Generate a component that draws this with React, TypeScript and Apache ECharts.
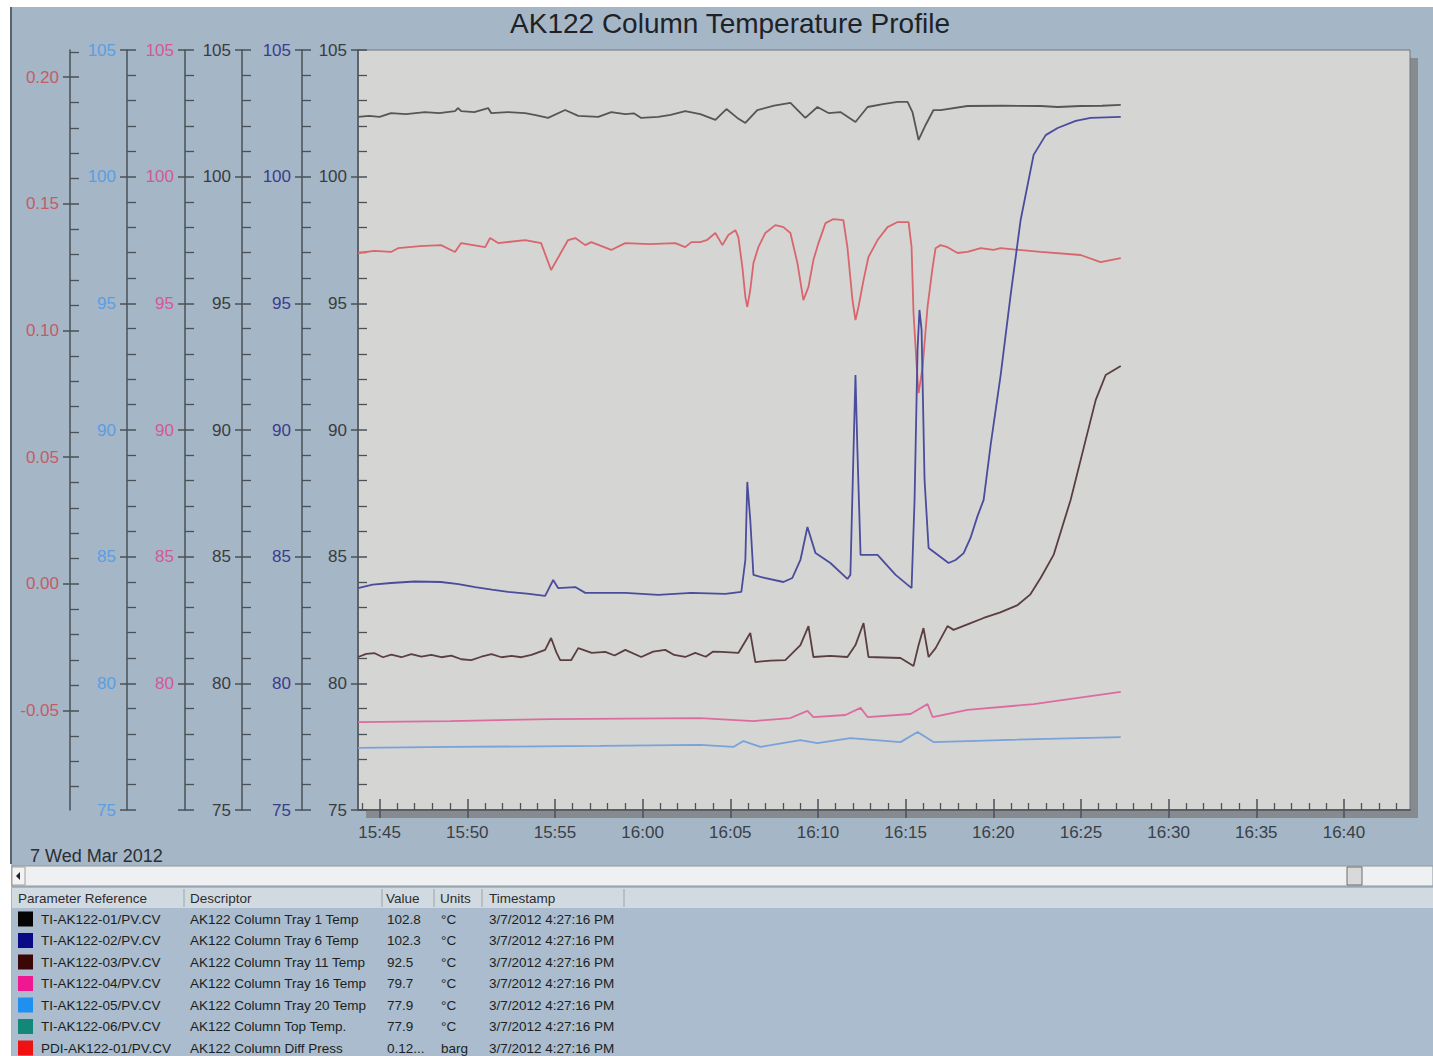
import React, { useEffect, useRef } from "react";
import * as echarts from "echarts";

const FONT = "'Liberation Sans', Arial, sans-serif";

const chartTitle = "AK122 Column Temperature Profile";
const dateLabel = "7 Wed Mar 2012";

// time values are minutes after 15:00
const windowStart = 43.767; // 15:43:46
const windowEnd = 103.767; // 16:43:46
const majorTimeTicks = [45, 50, 55, 60, 65, 70, 75, 80, 85, 90, 95, 100];
const minorTimeTicks = [
  44, 46, 47, 48, 49, 51, 52, 53, 54, 56, 57, 58, 59, 61, 62, 63, 64, 66, 67, 68, 69, 71, 72, 73, 74,
  76, 77, 78, 79, 81, 82, 83, 84, 86, 87, 88, 89, 91, 92, 93, 94, 96, 97, 98, 99, 101, 102, 103,
];

const tempMin = 75;
const tempMax = 105;
const tempInterval = 5;
const pressureMin = -0.0892;
const pressureMax = 0.2107;
const pressureLabelTicks = [-0.05, 0, 0.05, 0.1, 0.15, 0.2];
const pressureMinorTicks = [
  -0.08, -0.07, -0.06, -0.04, -0.03, -0.02, -0.01, 0.01, 0.02, 0.03, 0.04, 0.06, 0.07, 0.08, 0.09,
  0.11, 0.12, 0.13, 0.14, 0.16, 0.17, 0.18, 0.19, 0.21,
];

// TI-AK122-01 Tray 1
const tray1Temp: [number, number][] = [
  [43.77, 102.36], [44.4, 102.4], [45.0, 102.36], [45.65, 102.51], [46.5, 102.47], [47.59, 102.55],
  [48.4, 102.51], [49.3, 102.59], [49.48, 102.71], [49.65, 102.59], [50.4, 102.55],
  [51.19, 102.71], [51.36, 102.51], [52.3, 102.55], [53.3, 102.51], [53.9, 102.43], [54.61, 102.32],
  [55.58, 102.63], [56.33, 102.4], [57.47, 102.36], [58.21, 102.55], [59.01, 102.47], [59.5, 102.5],
  [59.92, 102.32], [60.89, 102.36], [61.6, 102.44], [62.43, 102.59], [63.29, 102.47], [64.15, 102.24],
  [64.78, 102.67], [65.4, 102.32], [65.86, 102.12], [66.54, 102.63], [67.5, 102.8],
  [68.43, 102.91], [69.28, 102.32], [69.97, 102.75], [70.6, 102.51], [71.28, 102.55], [72.14, 102.16],
  [72.83, 102.75], [73.7, 102.86], [74.54, 102.95], [75.11, 102.95], [75.39, 102.55], [75.74, 101.45],
  [76.14, 102.04], [76.59, 102.63], [76.99, 102.63], [78.53, 102.79], [80.5, 102.8], [82.7, 102.79],
  [83.67, 102.75], [84.98, 102.79], [86.2, 102.8], [87.27, 102.83],
];

// TI-AK122-02 Tray 6
const tray6Temp: [number, number][] = [
  [43.77, 83.76], [44.6, 83.9], [45.65, 83.96], [47.0, 84.02], [48.5, 84.0], [49.5, 83.92],
  [50.45, 83.8], [51.4, 83.7], [52.33, 83.61], [53.4, 83.54], [54.44, 83.45],
  [54.9, 84.08], [55.18, 83.76], [56.16, 83.8], [56.73, 83.57], [59.01, 83.57], [60.89, 83.49],
  [62.78, 83.57], [64.72, 83.53], [65.63, 83.61], [65.86, 84.87], [65.97, 87.95], [66.14, 86.45],
  [66.32, 84.28], [66.95, 84.16], [68.03, 84.0], [68.54, 84.16], [69.0, 84.87], [69.4, 86.17],
  [69.86, 85.14], [70.71, 84.75], [71.68, 84.12], [71.85, 84.28], [72.03, 89.21], [72.14, 92.17],
  [72.25, 89.21], [72.43, 85.07], [73.4, 85.07], [74.43, 84.28], [75.34, 83.76], [75.51, 87.24],
  [75.68, 93.16], [75.79, 94.74], [75.91, 93.95], [76.08, 88.03], [76.31, 85.34], [77.45, 84.75],
  [77.85, 84.87], [78.31, 85.14], [78.7, 85.74], [79.1, 86.6], [79.45, 87.24], [79.85, 89.41],
  [80.42, 92.17], [80.99, 95.33], [81.56, 98.29], [82.3, 100.86], [82.99, 101.64], [83.67, 101.92],
  [84.7, 102.2], [85.55, 102.32], [87.27, 102.36],
];

// TI-AK122-03 Tray 11
const tray11Temp: [number, number][] = [
  [43.77, 81.04], [44.24, 81.16], [44.72, 81.19], [45.19, 81.03], [45.67, 81.13], [46.24, 81.03],
  [46.81, 81.15], [47.38, 81.05], [47.95, 81.12], [48.52, 81.03], [49.09, 81.09], [49.66, 80.95],
  [50.23, 80.92], [50.8, 81.05], [51.38, 81.15], [51.95, 81.03], [52.52, 81.08], [53.09, 81.03],
  [53.66, 81.12], [54.44, 81.32], [54.78, 81.79], [55.07, 81.24],
  [55.3, 80.92], [55.93, 80.92], [56.33, 81.39], [57.1, 81.2], [57.87, 81.24], [58.4, 81.1],
  [59.01, 81.32], [59.92, 81.04], [60.6, 81.25], [61.29, 81.32], [61.8, 81.12], [62.43, 81.04],
  [63.0, 81.2], [63.6, 81.05], [64.0, 81.25], [64.49, 81.24], [65.46, 81.2], [66.14, 81.99],
  [66.43, 80.84], [67.3, 80.9], [68.14, 80.92], [69.0, 81.51], [69.46, 82.26], [69.74, 81.04],
  [70.7, 81.08], [71.68, 81.04], [72.14, 81.51],
  [72.6, 82.38], [72.88, 81.04], [73.8, 81.02], [74.71, 81.0], [75.45, 80.68], [75.74, 81.51],
  [76.02, 82.18], [76.31, 81.04], [76.71, 81.39], [77.39, 82.26], [77.73, 82.11], [78.6, 82.35],
  [79.45, 82.58], [80.4, 82.8], [81.39, 83.09], [82.1, 83.5],
  [82.7, 84.16], [83.44, 85.07], [84.41, 87.24], [85.27, 89.61], [85.84, 91.18], [86.41, 92.17],
  [87.27, 92.53],
];

// TI-AK122-04 Tray 16
const tray16Temp: [number, number][] = [
  [43.77, 78.47], [49.02, 78.51], [54.73, 78.59], [63.29, 78.63], [66.32, 78.51], [68.43, 78.63],
  [69.4, 78.91], [69.74, 78.67], [71.57, 78.75], [72.43, 79.03], [72.83, 78.67], [75.28, 78.79],
  [76.25, 79.18], [76.54, 78.67], [78.53, 78.95], [82.3, 79.18], [87.27, 79.66],
];

// TI-AK122-05 Tray 20
const tray20Temp: [number, number][] = [
  [43.77, 77.45], [49.02, 77.49], [57.58, 77.53], [63.29, 77.57], [65.17, 77.49], [65.75, 77.72],
  [66.72, 77.49], [69.0, 77.76], [69.97, 77.64], [71.85, 77.84], [74.71, 77.68], [75.68, 78.08],
  [76.59, 77.68], [80.42, 77.76], [87.27, 77.88],
];

// PDI-AK122-01 Diff Press (barg)
const diffPress: [number, number][] = [
  [43.77, 0.1306], [44.7, 0.1314], [45.65, 0.131], [46.05, 0.1325], [47.3, 0.1333], [48.5, 0.1337],
  [49.3, 0.131], [49.65, 0.1345],
  [51.02, 0.1329], [51.3, 0.1365], [51.76, 0.1345], [53.3, 0.1357], [54.21, 0.1345], [54.78, 0.1239],
  [55.75, 0.1357], [56.16, 0.1365], [56.73, 0.1337], [57.07, 0.1349], [58.21, 0.1318], [59.01, 0.1345],
  [60.4, 0.1341], [61.86, 0.1345], [62.43, 0.1329], [62.78, 0.1349], [63.29, 0.1349], [63.69, 0.1358],
  [64.15, 0.1385], [64.55, 0.1337], [64.89, 0.1377], [65.29, 0.1396], [65.46, 0.1369], [65.69, 0.125],
  [65.86, 0.1132], [65.97, 0.1093], [66.14, 0.116], [66.32, 0.1266], [66.6, 0.1329], [67.0, 0.1385],
  [67.57, 0.1416], [68.03, 0.1408], [68.43, 0.1385], [68.83, 0.1266], [69.17, 0.112], [69.46, 0.1172],
  [69.74, 0.1278], [70.03, 0.1345], [70.43, 0.1424], [70.88, 0.144], [71.45, 0.1436], [71.68, 0.1329],
  [71.97, 0.112], [72.14, 0.1041], [72.31, 0.1093], [72.6, 0.1199], [72.88, 0.129], [73.4, 0.1357],
  [73.97, 0.1408], [74.54, 0.1428], [75.17, 0.1428], [75.34, 0.1329], [75.45, 0.1069], [75.68, 0.0805],
  [75.74, 0.0753], [75.97, 0.0856], [76.25, 0.1093], [76.54, 0.125], [76.71, 0.1325], [76.99, 0.1337],
  [77.39, 0.1329], [77.96, 0.1306], [78.53, 0.131], [79.28, 0.1325], [80.02, 0.1318], [80.42, 0.1325],
  [82.7, 0.131], [84.98, 0.1298], [86.12, 0.127], [87.27, 0.1286],
];

// table
const paramRefs = [
  "TI-AK122-01/PV.CV", "TI-AK122-02/PV.CV", "TI-AK122-03/PV.CV", "TI-AK122-04/PV.CV",
  "TI-AK122-05/PV.CV", "TI-AK122-06/PV.CV", "PDI-AK122-01/PV.CV",
];
const descriptors = [
  "AK122 Column Tray 1 Temp", "AK122 Column Tray 6 Temp", "AK122 Column Tray 11 Temp",
  "AK122 Column Tray 16 Temp", "AK122 Column Tray 20 Temp", "AK122 Column Top Temp.",
  "AK122 Column Diff Press",
];
const currentValues = ["102.8", "102.3", "92.5", "79.7", "77.9", "77.9", "0.12..."];
const units = ["°C", "°C", "°C", "°C", "°C", "°C", "barg"];
const timestamps = [
  "3/7/2012 4:27:16 PM", "3/7/2012 4:27:16 PM", "3/7/2012 4:27:16 PM", "3/7/2012 4:27:16 PM",
  "3/7/2012 4:27:16 PM", "3/7/2012 4:27:16 PM", "3/7/2012 4:27:16 PM",
];
const swatchColors = ["#050505", "#0a0a86", "#3a0606", "#f01890", "#2090f0", "#12887a", "#f01212"];
const headers = ["Parameter Reference", "Descriptor", "Value", "Units", "Timestamp"];

const AXIS = "#4a5157";

function fmtTime(v: number) {
  const t = Math.round(v);
  const h = 15 + Math.floor(t / 60);
  const m = t % 60;
  return `${h}:${String(m).padStart(2, "0")}`;
}

export default function App() {
  const ref = useRef<HTMLDivElement>(null);
  useEffect(() => {
    if (!ref.current) return;
    const chart = echarts.init(ref.current, undefined, { renderer: "svg" });

    const tempAxisDefs = [
      { offset: 0, color: "#3a3d40", showMin: true },
      { offset: 56, color: "#3c3c8c", showMin: true },
      { offset: 116, color: "#3a3d40", showMin: true },
      { offset: 173, color: "#d4589a", showMin: false },
      { offset: 231, color: "#5a9ee2", showMin: true },
    ];
    const yAxes: any[] = [];
    tempAxisDefs.forEach((d) => {
      yAxes.push({
        type: "value", position: "left", offset: d.offset, min: tempMin, max: tempMax, interval: tempInterval,
        axisLine: { show: true, onZero: false, lineStyle: { color: AXIS, width: 1.5 } },
        axisTick: { show: true, inside: true, length: 9, lineStyle: { color: AXIS, width: 1.5 } },
        minorTick: { show: true, splitNumber: 5, length: 9, lineStyle: { color: AXIS, width: 1.3 } },
        axisLabel: { color: d.color, fontSize: 17, fontFamily: FONT, margin: 11, showMinLabel: d.showMin },
        splitLine: { show: false }, minorSplitLine: { show: false },
      });
    });
    yAxes.push({
      type: "value", position: "left", offset: 288, min: pressureMin, max: pressureMax,
      axisLine: { show: true, onZero: false, lineStyle: { color: AXIS, width: 1.5 } },
      axisTick: { show: true, inside: true, length: 9, customValues: pressureLabelTicks, lineStyle: { color: AXIS, width: 1.5 } },
      axisLabel: {
        color: "#c45c66", fontSize: 17, fontFamily: FONT, margin: 11, customValues: pressureLabelTicks,
        formatter: (v: number) => v.toFixed(2),
      },
      splitLine: { show: false },
    });
    // outward halves of the major ticks
    tempAxisDefs.forEach((d) => {
      yAxes.push({
        type: "value", position: "left", offset: d.offset, min: tempMin, max: tempMax, interval: tempInterval,
        axisLine: { show: false, onZero: false },
        axisTick: { show: true, inside: false, length: 7, lineStyle: { color: AXIS, width: 1.5 } },
        axisLabel: { show: false }, splitLine: { show: false },
      });
    });
    yAxes.push({
      type: "value", position: "left", offset: 288, min: pressureMin, max: pressureMax,
      axisLine: { show: false, onZero: false },
      axisTick: { show: true, inside: false, length: 7, customValues: pressureLabelTicks, lineStyle: { color: AXIS, width: 1.5 } },
      axisLabel: { show: false }, splitLine: { show: false },
    });
    yAxes.push({
      type: "value", position: "left", offset: 288, min: pressureMin, max: pressureMax,
      axisLine: { show: false, onZero: false },
      axisTick: { show: true, inside: true, length: 9, customValues: pressureMinorTicks, lineStyle: { color: AXIS, width: 1.3 } },
      axisLabel: { show: false }, splitLine: { show: false },
    });

    const xAxes: any[] = [
      {
        type: "value", position: "bottom", min: windowStart, max: windowEnd,
        axisLine: { show: true, onZero: false, lineStyle: { color: "#5b5f62", width: 2 } },
        axisTick: { show: true, inside: true, length: 11, customValues: majorTimeTicks, lineStyle: { color: AXIS, width: 1.5 } },
        axisLabel: {
          customValues: majorTimeTicks, formatter: fmtTime, color: "#3a4046", fontSize: 17,
          fontFamily: FONT, margin: 14,
        },
        splitLine: { show: false },
      },
      {
        type: "value", position: "bottom", min: windowStart, max: windowEnd,
        axisLine: { show: false, onZero: false },
        axisTick: { show: true, inside: false, length: 8, customValues: majorTimeTicks, lineStyle: { color: AXIS, width: 1.5 } },
        axisLabel: { show: false }, splitLine: { show: false },
      },
      {
        type: "value", position: "bottom", min: windowStart, max: windowEnd,
        axisLine: { show: false, onZero: false },
        axisTick: { show: true, inside: true, length: 7, customValues: minorTimeTicks, lineStyle: { color: AXIS, width: 1.3 } },
        axisLabel: { show: false }, splitLine: { show: false },
      },
    ];

    const seriesDefs = [
      { name: "PDI-AK122-01", data: diffPress, y: 5, color: "#d8666c" },
      { name: "TI-AK122-05", data: tray20Temp, y: 4, color: "#78a2d8" },
      { name: "TI-AK122-04", data: tray16Temp, y: 3, color: "#dc6c9e" },
      { name: "TI-AK122-03", data: tray11Temp, y: 2, color: "#5a3e40" },
      { name: "TI-AK122-02", data: tray6Temp, y: 1, color: "#4a4c9c" },
      { name: "TI-AK122-01", data: tray1Temp, y: 0, color: "#565656" },
    ];

    const g: any[] = [];
    g.push({ type: "rect", z: -20, silent: true, shape: { x: 11, y: 7, width: 1422, height: 1049 }, style: { fill: "#a5b6c7" } });
    g.push({ type: "line", z: -19, silent: true, shape: { x1: 11, y1: 7, x2: 11, y2: 864 }, style: { stroke: "#59636d", lineWidth: 2 } });
    g.push({ type: "rect", z: -19, silent: true, shape: { x: 366, y: 58, width: 1052, height: 760 }, style: { fill: "#868b8f" } });
    g.push({
      type: "text", z: 5, silent: true, x: 730, y: 23,
      style: { text: chartTitle, fontSize: 28, fontFamily: FONT, fill: "#1e2226", align: "center", verticalAlign: "middle" },
    });
    g.push({
      type: "text", z: 5, silent: true, x: 30, y: 856,
      style: { text: dateLabel, fontSize: 18, fontFamily: FONT, fill: "#2a2f34", align: "left", verticalAlign: "middle" },
    });
    // scrollbar
    g.push({ type: "rect", z: 1, silent: true, shape: { x: 12, y: 866, width: 1421, height: 20 }, style: { fill: "#eef0f1", stroke: "#8d969e", lineWidth: 1 } });
    g.push({ type: "rect", z: 2, silent: true, shape: { x: 12, y: 867, width: 13, height: 18 }, style: { fill: "#f3f3f3", stroke: "#a0a0a0", lineWidth: 1 } });
    g.push({ type: "polygon", z: 3, silent: true, shape: { points: [[16, 876], [20, 872], [20, 880]] }, style: { fill: "#202020" } });
    g.push({ type: "rect", z: 2, silent: true, shape: { x: 1347, y: 867, width: 15, height: 18 }, style: { fill: "#d9d9d9", stroke: "#6d6d6d", lineWidth: 1 } });
    // table header
    g.push({ type: "rect", z: 1, silent: true, shape: { x: 12, y: 888, width: 1421, height: 20 }, style: { fill: "#d2dae1" } });
    g.push({ type: "rect", z: 1, silent: true, shape: { x: 12, y: 908, width: 1421, height: 148 }, style: { fill: "#aabccd" } });
    const sepX = [184, 382, 434, 482, 624];
    sepX.forEach((x) => {
      g.push({ type: "line", z: 2, silent: true, shape: { x1: x, y1: 889, x2: x, y2: 907 }, style: { stroke: "#9aa3ab", lineWidth: 1 } });
    });
    const headerX = [18, 190, 386, 440, 489];
    headers.forEach((h, i) => {
      g.push({
        type: "text", z: 3, silent: true, x: headerX[i], y: 898,
        style: { text: h, fontSize: 13.5, fontFamily: FONT, fill: "#2a2d30", align: "left", verticalAlign: "middle" },
      });
    });
    paramRefs.forEach((p, i) => {
      const y = 919 + i * 21.5;
      g.push({ type: "rect", z: 3, silent: true, shape: { x: 18, y: y - 7.5, width: 15, height: 15 }, style: { fill: swatchColors[i] } });
      const cells = [
        { x: 41, t: p }, { x: 190, t: descriptors[i] }, { x: 387, t: currentValues[i] },
        { x: 441, t: units[i] }, { x: 489, t: timestamps[i] },
      ];
      cells.forEach((c) => {
        g.push({
          type: "text", z: 3, silent: true, x: c.x, y,
          style: { text: c.t, fontSize: 13.5, fontFamily: FONT, fill: "#1c1f22", align: "left", verticalAlign: "middle" },
        });
      });
    });

    chart.setOption({
      animation: false,
      backgroundColor: "#ffffff",
      grid: {
        left: 358, top: 50, width: 1052, height: 760, show: true,
        backgroundColor: "#d5d5d4", borderColor: "#6f777e", borderWidth: 1,
      },
      xAxis: xAxes,
      yAxis: yAxes,
      series: seriesDefs.map((s) => ({
        name: s.name, type: "line", yAxisIndex: s.y, data: s.data, showSymbol: false, symbol: "none",
        silent: true, lineStyle: { color: s.color, width: 1.8 }, itemStyle: { color: s.color },
      })),
      graphic: { elements: g },
    });
    return () => chart.dispose();
  }, []);
  return <div ref={ref} style={{ position: "absolute", left: 0, top: 0, width: 1433, height: 1056 }} />;
}
